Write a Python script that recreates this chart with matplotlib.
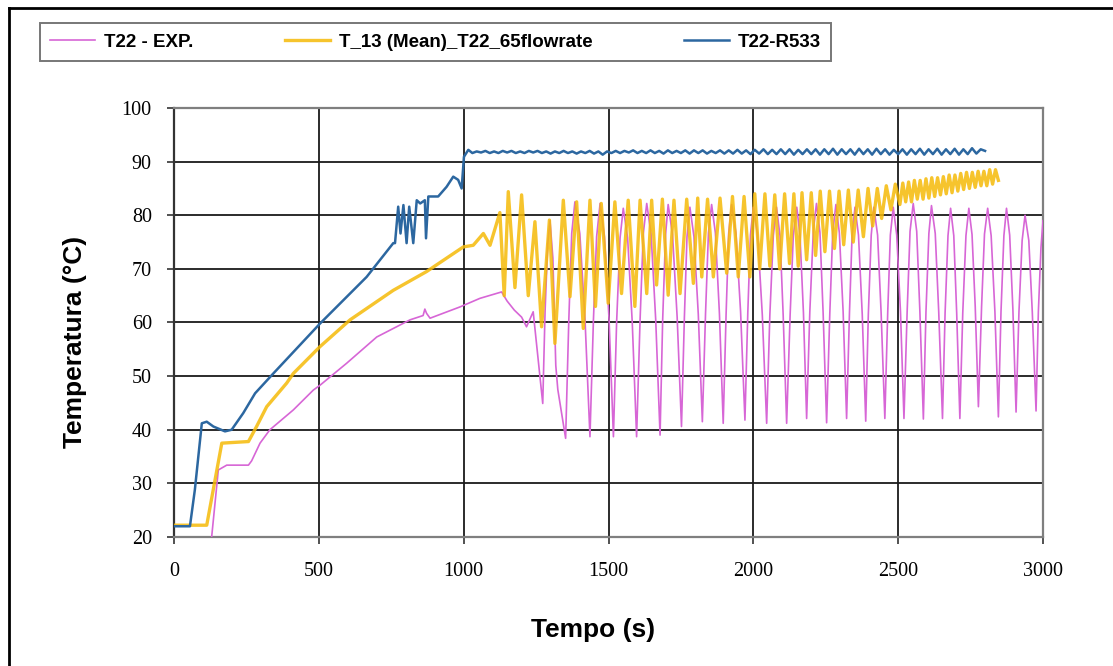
import matplotlib
matplotlib.use("Agg")
import matplotlib.pyplot as plt
from matplotlib.lines import Line2D

# ---------------- data ----------------
pink_t = [130, 153, 182, 257, 268, 297, 331, 412, 481, 504, 596, 700, 815, 860, 866, 872, 884,
          987, 1056, 1131, 1150, 1175, 1200, 1217, 1240,
          1273, 1281, 1290, 1298, 1308, 1318, 1325, 1352,
          1363, 1373, 1384, 1401, 1419, 1436,
          1448, 1459, 1471, 1486, 1502, 1517,
          1528, 1540, 1551, 1566, 1582, 1597,
          1609, 1620, 1632, 1647, 1663, 1678,
          1687, 1697, 1706, 1721, 1737, 1752,
          1762, 1771, 1781, 1795, 1810, 1824,
          1835, 1845, 1856, 1869, 1883, 1896,
          1906, 1915, 1925, 1940, 1956, 1971,
          1981, 1990, 2000, 2015, 2031, 2046,
          2057, 2069, 2080, 2092, 2103, 2115,
          2127, 2138, 2150, 2161, 2173, 2184,
          2195, 2207, 2218, 2230, 2241, 2253,
          2264, 2274, 2285, 2297, 2310, 2322,
          2332, 2341, 2351, 2363, 2376, 2388,
          2397, 2407, 2416, 2429, 2441, 2454,
          2464, 2473, 2483, 2495, 2508, 2520,
          2531, 2541, 2552, 2564, 2575, 2587,
          2596, 2606, 2615, 2628, 2640, 2653,
          2662, 2672, 2681, 2692, 2702, 2713,
          2723, 2734, 2744, 2755, 2766, 2777,
          2788, 2798, 2809, 2821, 2834, 2846,
          2855, 2865, 2874, 2885, 2896, 2907,
          2917, 2928, 2938, 2951, 2963, 2976,
          2984, 2993, 3000]
pink_v = [20, 32.5, 33.4, 33.4, 34.2, 37.5, 40, 43.7, 47.4, 48.3, 52.4, 57.3, 60.5, 61.3, 62.5, 61.7, 60.8,
          62.9, 64.5, 65.7, 64, 62.3, 61, 59.2, 62,
          44.9, 62, 74.5, 79.0, 72, 52, 47.5, 38.4,
          60.5, 76.6, 82.5, 76.6, 60.5, 38.7,
          60.5, 76, 82.2, 76, 60.5, 38.7,
          60, 75.8, 81.3, 75.8, 60, 38.7,
          60.5, 76.5, 82.2, 76.5, 60.5, 39.0,
          60.5, 76.4, 82, 76.4, 61, 40.6,
          61, 76, 81.5, 76, 61.5, 41.5,
          61.7, 76.7, 82, 76.7, 61.6, 41.2,
          61.6, 76.7, 82, 76.7, 62, 41.8,
          62, 76.3, 81.5, 76.2, 61.4, 41.2,
          61.4, 76.2, 81.5, 76.2, 61.4, 41.2,
          61.4, 76.2, 81.5, 76.3, 61.8, 42.1,
          62, 77, 82.2, 76.8, 61.7, 41.3,
          61.7, 76.7, 82, 76.7, 62, 42.1,
          62, 76.4, 81.5, 76.3, 61.5, 41.6,
          61.5, 76.3, 81.5, 76.3, 62, 42.1,
          62, 76.3, 81.5, 76.3, 62, 42.1,
          62, 77, 82.2, 77, 62, 42.0,
          62, 76.6, 81.8, 76.6, 62, 42.1,
          61.8, 76.2, 81.3, 76.2, 61.8, 42.1,
          61.8, 76.2, 81.3, 76.4, 63, 44.3,
          63, 76.5, 81.3, 76.2, 62, 42.4,
          62, 76.2, 81.3, 76.3, 62.5, 43.3,
          62, 75.3, 80.0, 75.3, 62, 43.5,
          62, 74, 79]

yel_t = [0, 113, 165, 257, 285, 320, 389, 412, 504, 608, 757, 872, 999, 1033, 1068, 1091,
         1125, 1140, 1154, 1177, 1200, 1223, 1246, 1269, 1296, 1315, 1344, 1367, 1390, 1413,
         1436, 1455, 1475, 1499, 1522, 1545, 1568, 1591, 1609, 1632, 1649, 1666, 1686, 1706,
         1726, 1747, 1770, 1793, 1808, 1822, 1842, 1862, 1885, 1908, 1928, 1948, 1968, 1988,
         2005, 2022, 2040, 2057, 2074, 2091, 2108, 2125, 2140, 2155, 2168, 2184, 2200, 2215,
         2231, 2247, 2263, 2280, 2296, 2312, 2328, 2345, 2362, 2380, 2396, 2412, 2428, 2443,
         2459, 2475, 2490, 2506, 2516, 2526, 2536, 2546, 2556, 2566, 2576, 2586, 2596, 2606,
         2616, 2626, 2636, 2646, 2656, 2666, 2676, 2686, 2696, 2706, 2716, 2726, 2736, 2746,
         2756, 2766, 2776, 2786, 2796, 2806, 2816, 2826, 2836, 2846]
yel_v = [22.2, 22.2, 37.5, 37.8, 40.6, 44.3, 48.7, 50.5, 55.5, 60.5, 66, 69.5, 74.1, 74.4, 76.6, 74.4,
         80.5, 65, 84.4, 66.5, 83.8, 65, 78.8, 59.2, 79.1, 56.1, 82.8, 64.8, 82.5, 58.9,
         82.8, 63, 82.2, 63.6, 82.5, 65.4, 82.8, 63, 82.8, 65.4, 82.8, 67, 83, 65.1,
         82.8, 65.4, 83, 67.3, 83.2, 68.5, 83, 68.5, 83.2, 69.2, 83.5, 68.5, 83.5, 68.5,
         84, 70, 84, 70.5, 83.8, 70, 84, 71, 84, 70.5, 84.2, 71.7, 84.2, 72.5,
         84.5, 73.2, 84.5, 73.8, 84.5, 74.5, 84.7, 75, 84.7, 76, 85, 78, 85, 79.4,
         85.5, 81, 85.8, 82, 86, 82.5, 86.2, 82.5, 86.5, 83, 86.5, 83, 86.8, 83.2,
         87, 83.5, 87, 83.8, 87.2, 84, 87.5, 84.2, 87.5, 84.5, 87.8, 84.8, 88, 85,
         88, 85.2, 88.2, 85.5, 88.2, 85.5, 88.5, 85.8, 88.5, 86.5]

blue_t = [0, 55, 72, 96, 113, 136, 176, 199, 239, 280, 343, 504, 665, 757, 763, 774, 782, 792,
          803, 812, 826, 838, 850, 866, 870, 878, 912, 941, 964, 981, 993, 1001, 1016,
          1030, 1045, 1060, 1075, 1090, 1105, 1120, 1135, 1150, 1165, 1180, 1195, 1210, 1225,
          1240, 1255, 1270, 1285, 1300, 1315, 1330, 1345, 1360, 1375, 1390, 1405, 1420, 1435,
          1450, 1465, 1480, 1495, 1510, 1525, 1540, 1555, 1570, 1585, 1600, 1615, 1630, 1645,
          1660, 1675, 1690, 1705, 1720, 1735, 1750, 1765, 1780, 1795, 1810, 1825, 1840, 1855,
          1870, 1885, 1900, 1915, 1930, 1945, 1960, 1975, 1990, 2005, 2020, 2035, 2050, 2065,
          2080, 2095, 2110, 2125, 2140, 2155, 2170, 2185, 2200, 2215, 2230, 2245, 2260, 2275,
          2290, 2305, 2320, 2335, 2350, 2365, 2380, 2395, 2410, 2425, 2440, 2455, 2470, 2485,
          2500, 2515, 2530, 2545, 2560, 2575, 2590, 2605, 2620, 2635, 2650, 2665, 2680, 2695,
          2710, 2725, 2740, 2755, 2770, 2785, 2800]
blue_v = [22, 22, 28.8, 41.2, 41.5, 40.6, 39.7, 40, 43.1, 46.8, 50.5, 59.8, 68.5, 74.8, 74.8, 81.6, 76.6, 81.9,
          74.8, 81.6, 74.8, 82.8, 82.2, 82.8, 75.7, 83.5, 83.5, 85.3, 87.2, 86.6, 85, 90.9, 92.2,
          91.6, 91.9, 91.7, 92.0, 91.6, 91.9, 91.6, 92.0, 91.7, 92.0,
          91.6, 91.9, 91.6, 92.0, 91.7, 92.0, 91.6, 91.9, 91.5, 91.9,
          91.6, 92.0, 91.6, 91.9, 91.5, 91.9, 91.6, 92.0, 91.5, 91.9,
          91.3, 91.9, 91.6, 92.0, 91.6, 92.0, 91.7, 92.1, 91.6, 92.0,
          91.6, 92.1, 91.6, 92.0, 91.5, 92.1, 91.6, 92.0, 91.6, 92.1,
          91.5, 92.1, 91.6, 92.1, 91.5, 92.0, 91.6, 92.1, 91.5, 92.1,
          91.5, 92.2, 91.5, 92.1, 91.4, 92.2, 91.5, 92.3, 91.4, 92.2,
          91.4, 92.3, 91.4, 92.3, 91.3, 92.2, 91.4, 92.3, 91.4, 92.3,
          91.3, 92.3, 91.4, 92.4, 91.3, 92.3, 91.4, 92.3, 91.3, 92.4,
          91.4, 92.3, 91.3, 92.4, 91.4, 92.3, 91.3, 92.2, 91.4, 92.3,
          91.3, 92.3, 91.4, 92.4, 91.3, 92.3, 91.4, 92.4, 91.3, 92.3,
          91.4, 92.4, 91.3, 92.3, 91.4, 92.5, 91.5, 92.3, 92.0]

series_labels = ["T22 - EXP.", "T_13 (Mean)_T22_65flowrate", "T22-R533"]
x_ticks = [0, 500, 1000, 1500, 2000, 2500, 3000]
y_ticks = [20, 30, 40, 50, 60, 70, 80, 90, 100]
x_label = "Tempo (s)"
y_label = "Temperatura (°C)"

# ---------------- figure ----------------
W, H = 1113, 666
fig = plt.figure(figsize=(W / 100, H / 100), dpi=100)
fig.patch.set_facecolor("white")

ax = fig.add_axes([174 / W, 1 - 537 / H, (1043 - 174) / W, (537 - 108) / H])

c_pink = "#D766D6"
c_yel = "#F5BA08"
c_blue = "#2C67A0"

ax.plot(pink_t, pink_v, color=c_pink, lw=1.2, label=series_labels[0], zorder=3)
ax.plot(yel_t, yel_v, color=c_yel, lw=2.4, label=series_labels[1], zorder=4, alpha=0.85)
ax.plot(blue_t, blue_v, color=c_blue, lw=1.8, label=series_labels[2], zorder=5)

ax.set_xlim(0, 3000)
ax.set_ylim(20, 100)
ax.set_xticks(x_ticks)
ax.set_yticks(y_ticks)
ax.grid(True, color="#1a1a1a", lw=1.3, zorder=1)
ax.set_axisbelow(True)

for s in ax.spines.values():
    s.set_color("#7f7f7f")
    s.set_linewidth(1.6)
ax.spines["left"].set_color("#333333")

ax.tick_params(direction="out", length=5, width=1.2, color="#333333", labelsize=14.5)
ax.tick_params(axis="x", pad=13)
ax.tick_params(axis="y", pad=11)
for lab in ax.get_xticklabels() + ax.get_yticklabels():
    lab.set_fontfamily("Liberation Serif")

ax.set_xlabel(x_label, fontsize=19, fontweight="bold", family="Liberation Sans")
ax.set_ylabel(y_label, fontsize=19, fontweight="bold", family="Liberation Sans")
ax.xaxis.set_label_coords((593 - 174) / 869, (537 - 630) / 429)
ax.yaxis.set_label_coords((75 - 174) / 869, (537 - 342) / 429)
ax.xaxis.label.set_va("center")
ax.yaxis.label.set_va("center")

leg = fig.legend(loc="center", bbox_to_anchor=((41 + 830) / 2 / W, 1 - 42 / H), ncol=3,
                 frameon=True, fancybox=False, edgecolor="#555555",
                 handlelength=2.4, handletextpad=0.45, columnspacing=4.9,
                 prop={"family": "Liberation Sans", "weight": "bold", "size": 13.5},
                 borderpad=0.55, borderaxespad=0.0)
leg.get_frame().set_linewidth(1.4)

# outer chart frame (partially visible in the reference)
fig.add_artist(Line2D([9 / W, 9 / W], [0, 1 - 8 / H], transform=fig.transFigure,
                      color="black", lw=2))
fig.add_artist(Line2D([9 / W, 1], [1 - 8 / H, 1 - 8 / H], transform=fig.transFigure,
                      color="black", lw=2))

fig.savefig("out.png", dpi=100)
